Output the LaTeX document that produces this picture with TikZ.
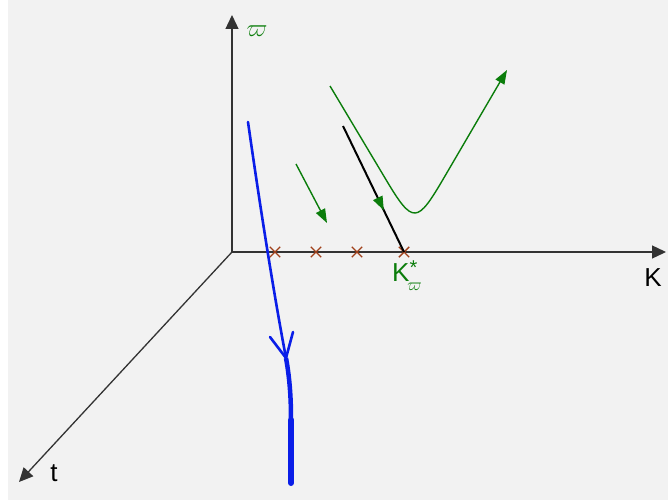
\documentclass[tikz,border=0pt]{standalone}
\usepackage{fontspec}
\setmainfont{Liberation Sans}
\usetikzlibrary{arrows.meta,shapes.misc,decorations.markings}
\definecolor{bgc}{HTML}{F2F2F2}
\definecolor{axisc}{HTML}{333333}
\definecolor{grn}{HTML}{0B7D0B}
\definecolor{brn}{HTML}{A0401A}
\definecolor{blu}{HTML}{0A1EE8}
\tikzset{
  axis/.style={draw=axisc,line width=1.3pt,-{Triangle[length=14pt,width=13pt]}},
  lbl/.style={font=\fontsize{26}{30}\selectfont,inner sep=0pt},
  xmark/.style={cross out,draw=brn,line width=1.4pt,minimum size=9pt,inner sep=0pt},
  garrow/.style={draw=grn,line width=1.4pt,-{Triangle[length=14pt,width=10pt]}},
}
\begin{document}
\begin{tikzpicture}[x=1pt,y=-1pt]
\fill[bgc] (0,0) rectangle (668,500);
\fill[white] (0,0) rectangle (8,500);
\useasboundingbox (0,0) rectangle (668,500);
\coordinate (O) at (232,252);
\coordinate (W) at (232,15);
\coordinate (K) at (666,252);
\coordinate (T) at (19,482);
\draw[axis] (O) -- (W);
\draw[axis] (O) -- (K);
\draw[axis] (O) -- (T);
\node[lbl,text=grn] (wl) at (257,31) {$\varpi$};
\node[lbl] (kl) at (653,278) {K};
\node[lbl] (tl) at (54,473) {t};
\node[xmark] (x1) at (275,252) {};
\node[xmark] (x2) at (316,252) {};
\node[xmark] (x3) at (357,252) {};
\node[xmark] (x4) at (404,252) {};
\node[lbl,text=grn,anchor=west] (ks) at (392,276) {K\raisebox{7pt}{\fontsize{20}{20}\selectfont *}\kern-10pt\raisebox{-9pt}{$\scriptstyle\varpi$}};
% blue trajectory
\draw[blu,line width=2.6pt,line cap=round] (248,122) .. controls (262,220) and (275,300) .. (286,358);
\draw[blu,line width=4.5pt] (286,358) .. controls (290,380) and (291,400) .. (291,420);
\draw[blu,line width=6pt,line cap=round] (291,420) -- (291,483);
\draw[blu,line width=2.6pt,line cap=round,line join=round] (270,337) -- (286,358) -- (293,332);
% green arrows
\coordinate (g1) at (296,164);
\coordinate (g2) at (327,223);
\draw[garrow] (g1) -- (g2);
\coordinate (u1) at (330,86);
\coordinate (u2) at (507,70);
\draw[garrow] (u1) -- (385,178) .. controls (413.5,226) and (416.9,224) .. (445,176) -- (u2);
% black line
\coordinate (b1) at (343,126);
\draw[black,line width=2pt,postaction={decorate},
  decoration={markings,mark=at position 0.67 with {\arrow[grn]{Triangle[length=14pt,width=10pt]}}}]
  (b1) -- (x4.center);
\end{tikzpicture}
\end{document}
